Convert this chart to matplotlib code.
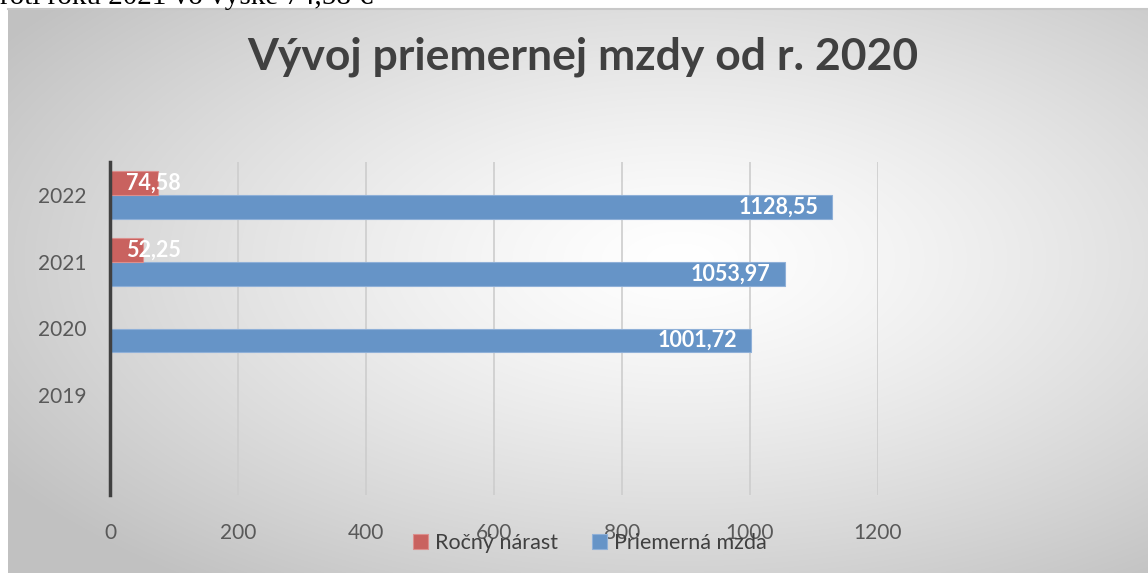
import numpy as np
import matplotlib.pyplot as plt

# Dáta
roky = ["", "2019", "2020", "2021", "2022"]
mzda = [0, 0, 1001.72, 1053.97, 1128.55]
narast = [0, 0, 0, 52.25, 74.58]
mzda_popisy = ["", "", "1001,72", "1053,97", "1128,55"]
narast_popisy = ["", "", "", "52,25", "74,58"]
x_ticky = [0, 200, 400, 600, 800, 1000, 1200]

W, H = 1148, 573
plt.rcParams['font.family'] = ['Lato', 'DejaVu Sans']

fig = plt.figure(figsize=(W / 100, H / 100), dpi=100)

# Pozadie - radiálny prechod
bg = fig.add_axes([0, 0, 1, 1], zorder=-5)
yy, xx = np.mgrid[0:H, 0:W]
d = np.sqrt(((xx - 680) / (W / 2)) ** 2 + ((yy - 260) / (H / 2)) ** 2) / np.sqrt(2)
val = (255 - 62 * np.clip(d, 0, 1) ** 1.3) / 255
img = np.dstack([val, val, val])
img[:8, :, :] = 1.0
img[:, :8, :] = 1.0
bg.imshow(img, extent=(0, W, H, 0), aspect='auto', interpolation='bilinear')
bg.plot([8, W], [8.5, 8.5], color='#c8c8c8', lw=1.5)
bg.set_xlim(0, W)
bg.set_ylim(H, 0)
bg.axis('off')

fig.text(0, 1 - 4 / H, "roti roku 2021 vo výške 74,58 €", family='Liberation Serif',
         fontsize=21, va='baseline', ha='left', color='black')

ax = fig.add_axes([110 / W, 1 - 495 / H, 768 / W, 333 / H])
ax.set_facecolor('none')

y = np.arange(len(roky))
h = 0.36
b_mzda = ax.barh(y - h / 2, mzda, height=h, color='#6694c7', edgecolor='#8fb0d8', lw=0.8,
                 label='Priemerná mzda', zorder=3)
b_nar = ax.barh(y + h / 2, narast, height=h, color='#c9625f', edgecolor='#dc8f8d', lw=0.8,
                label='Ročný nárast', zorder=3)

for i in range(len(roky)):
    if mzda_popisy[i]:
        ax.text(mzda[i] - 22, y[i] - h / 2, mzda_popisy[i], ha='right', va='center',
                color='white', fontsize=15.5, fontweight='bold', zorder=5)
    if narast_popisy[i]:
        ax.text(25, y[i] + h / 2, narast_popisy[i], ha='left', va='center',
                color='white', fontsize=15.5, fontweight='bold', zorder=5)

ax.set_xlim(0, 1200)
ax.set_ylim(-0.5, 4.5)
ax.set_xticks(x_ticky)
ax.set_yticks(y)
ax.set_yticklabels(roky)
ax.grid(axis='x', color='#cdcdcd', lw=1.2, zorder=0)
for s in ['top', 'right', 'bottom']:
    ax.spines[s].set_visible(False)
ax.spines['left'].set_color('#404040')
ax.spines['left'].set_linewidth(2.5)
ax.spines['left'].set_zorder(6)
ax.tick_params(axis='both', length=0, labelsize=15, labelcolor='#595959')
ax.tick_params(axis='x', pad=20)
ax.tick_params(axis='y', pad=17)

fig.text(583 / W, 1 - 57 / H, "Vývoj priemernej mzdy od r. 2020", ha='center', va='center',
         fontsize=32, fontweight='bold', color='#404040')

handles = [b_nar, b_mzda]
leg = fig.legend(handles, ['Ročný nárast', 'Priemerná mzda'], loc='center',
                 bbox_to_anchor=(590 / W, 1 - 543 / H), ncol=2, frameon=False,
                 fontsize=15.5, handlelength=0.7, handleheight=0.7, handletextpad=0.3,
                 columnspacing=1.6, labelcolor='#404040')

plt.savefig("out.png", dpi=100)
